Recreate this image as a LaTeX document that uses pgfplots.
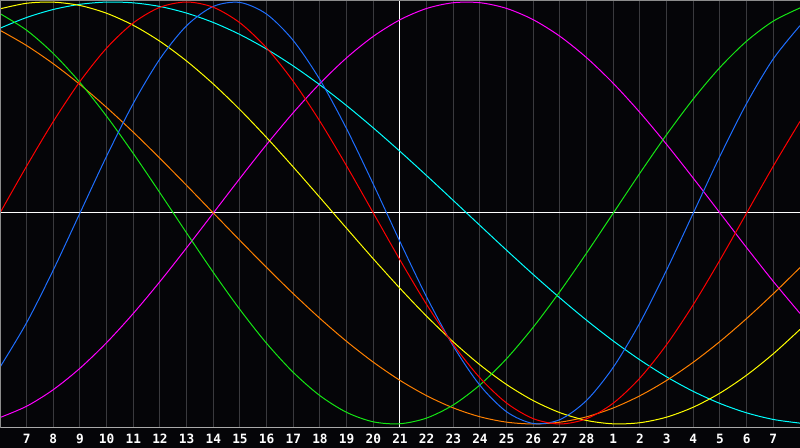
\documentclass[border=0pt]{standalone}
\usepackage{fontspec}
\setmainfont{Liberation Sans}
\newfontfamily\lblfont{DejaVu Sans Mono}
\usepackage{pgfplots}
\usepackage{pgfplotstable}
\pgfplotsset{compat=1.18}

\definecolor{bg}{RGB}{5,5,8}
\definecolor{gridgray}{RGB}{58,58,62}
\definecolor{framegray}{RGB}{140,140,140}
\definecolor{basegray}{RGB}{170,170,170}
\definecolor{cRed}{RGB}{255,0,0}
\definecolor{cBlue}{RGB}{30,110,255}
\definecolor{cGreen}{RGB}{20,230,20}
\definecolor{cMagenta}{RGB}{255,0,255}
\definecolor{cYellow}{RGB}{255,255,0}
\definecolor{cOrange}{RGB}{255,128,0}
\definecolor{cCyan}{RGB}{0,255,255}

% k = day index from the left edge (k=15 is the 21st)
\pgfplotstableread{
k red blue green magenta yellow orange cyan
0 0.0000 -0.7308 0.9450 -0.9694 0.9675 0.8660 0.8758
1 0.2225 -0.5196 0.8660 -0.9158 0.9940 0.7934 0.9267
2 0.4339 -0.2698 0.7557 -0.8372 0.9993 0.7071 0.9646
3 0.6235 0.0000 0.6182 -0.7357 0.9834 0.6088 0.9890
4 0.7818 0.2698 0.4582 -0.6142 0.9465 0.5000 0.9996
5 0.9010 0.5196 0.2817 -0.4759 0.8894 0.3827 0.9960
6 0.9749 0.7308 0.0951 -0.3247 0.8134 0.2588 0.9786
7 1.0000 0.8879 -0.0951 -0.1646 0.7199 0.1305 0.9473
8 0.9749 0.9791 -0.2817 0.0000 0.6112 0.0000 0.9028
9 0.9010 0.9977 -0.4582 0.1646 0.4894 -0.1305 0.8457
10 0.7818 0.9423 -0.6182 0.3247 0.3572 -0.2588 0.7767
11 0.6235 0.8170 -0.7557 0.4759 0.2174 -0.3827 0.6965
12 0.4339 0.6311 -0.8660 0.6142 0.0730 -0.5000 0.6068
13 0.2225 0.3984 -0.9450 0.7357 -0.0730 -0.6088 0.5086
14 0.0000 0.1362 -0.9898 0.8372 -0.2174 -0.7071 0.4031
15 -0.2225 -0.1362 -0.9989 0.9158 -0.3572 -0.7934 0.2920
16 -0.4339 -0.3984 -0.9718 0.9694 -0.4894 -0.8660 0.1769
17 -0.6235 -0.6311 -0.9096 0.9966 -0.6112 -0.9239 0.0592
18 -0.7818 -0.8170 -0.8146 0.9966 -0.7199 -0.9659 -0.0592
19 -0.9010 -0.9423 -0.6901 0.9694 -0.8134 -0.9914 -0.1769
20 -0.9749 -0.9977 -0.5406 0.9158 -0.8894 -1.0000 -0.2920
21 -1.0000 -0.9791 -0.3717 0.8372 -0.9465 -0.9914 -0.4031
22 -0.9749 -0.8879 -0.1893 0.7357 -0.9834 -0.9659 -0.5086
23 -0.9010 -0.7308 0.0000 0.6142 -0.9993 -0.9239 -0.6068
24 -0.7818 -0.5196 0.1893 0.4759 -0.9940 -0.8660 -0.6965
25 -0.6235 -0.2698 0.3717 0.3247 -0.9675 -0.7934 -0.7767
26 -0.4339 0.0000 0.5406 0.1646 -0.9203 -0.7071 -0.8457
27 -0.2225 0.2698 0.6901 0.0000 -0.8536 -0.6088 -0.9028
28 0.0000 0.5196 0.8146 -0.1646 -0.7686 -0.5000 -0.9473
29 0.2225 0.7308 0.9096 -0.3247 -0.6673 -0.3827 -0.9786
30 0.4339 0.8879 0.9718 -0.4759 -0.5518 -0.2588 -0.9960
}\bio

\begin{document}
\begin{tikzpicture}
\useasboundingbox (0,0) rectangle (400pt,224pt);
\fill[bg] (0,0) rectangle (400pt,224pt);
\begin{axis}[
    at={(0pt,10pt)}, anchor=south west,
    width=400pt, height=214pt, scale only axis,
    xmin=0, xmax=30, ymin=-1.019, ymax=1.0095,
    axis line style={draw=none},
    tick style={draw=none},
    major tick length=0pt,
    xtick={1,...,29},
    xticklabels={7,8,9,10,11,12,13,14,15,16,17,18,19,20,21,22,23,24,25,26,27,28,1,2,3,4,5,6,7},
    ytick=\empty,
    xmajorgrids,
    major grid style={gridgray, line width=0.5pt},
    xticklabel style={font=\lblfont\bfseries\fontsize{6.4}{7}\selectfont, text=white, anchor=base, yshift=-7.6pt},
    every axis plot/.append style={line width=0.5pt, no markers},
]
    % reference lines
    \addplot[white, line width=0.5pt] coordinates {(15,-1.1) (15,1.1)};
    \addplot[white, line width=0.5pt] coordinates {(0,0) (30,0)};

    \addplot[cMagenta, smooth] table[x=k, y=magenta] {\bio};
    \addplot[cCyan, smooth] table[x=k, y=cyan] {\bio};
    \addplot[cOrange, smooth] table[x=k, y=orange] {\bio};
    \addplot[cYellow, smooth] table[x=k, y=yellow] {\bio};
    \addplot[cGreen, smooth] table[x=k, y=green] {\bio};
    \addplot[cBlue, smooth] table[x=k, y=blue] {\bio};
    \addplot[cRed, smooth] table[x=k, y=red] {\bio};
\end{axis}
\draw[basegray, line width=0.5pt] (0,10pt) -- (400pt,10pt);
\draw[framegray, line width=0.5pt] (0.25pt,10pt) -- (0.25pt,224pt);
\draw[framegray, line width=0.5pt] (0,223.75pt) -- (400pt,223.75pt);
\end{tikzpicture}
\end{document}
